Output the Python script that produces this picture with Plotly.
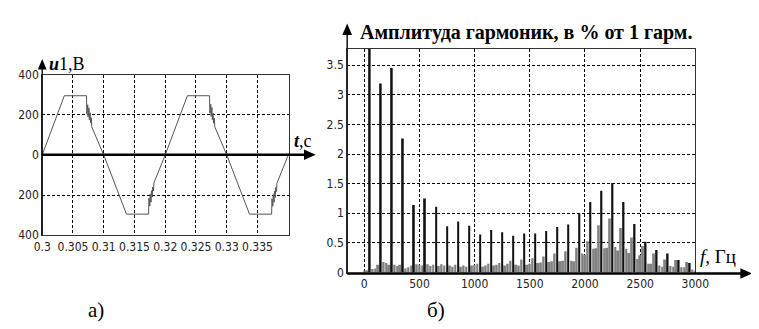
import plotly.graph_objects as go

# ---------------- data: left chart (voltage waveform) ----------------
t_s = [0.3000, 0.3036, 0.30720, 0.30725, 0.30740, 0.30745, 0.30760, 0.30765, 0.30780, 0.30785,
       0.30800, 0.30805, 0.3100, 0.3137, 0.31730, 0.31735, 0.31750, 0.31755, 0.31770, 0.31775,
       0.31790, 0.31795, 0.31810, 0.31815, 0.3200,
       0.3236, 0.32720, 0.32725, 0.32740, 0.32745, 0.32760, 0.32765, 0.32780, 0.32785,
       0.32800, 0.32805, 0.3300, 0.3337, 0.33730, 0.33735, 0.33750, 0.33755, 0.33770, 0.33775,
       0.33790, 0.33795, 0.33810, 0.33815, 0.3400]
u_v = [0, 295, 295, 205, 250, 190, 235, 175, 210, 160,
       185, 140, 0, -295, -295, -215, -255, -195, -235, -178,
       -210, -160, -180, -140, 0,
       295, 295, 208, 252, 192, 236, 176, 208, 158,
       183, 140, 0, -295, -295, -218, -256, -197, -236, -180,
       -212, -162, -182, -142, 0]

t_ticks = [0.3, 0.305, 0.31, 0.315, 0.32, 0.325, 0.33, 0.335]
t_labels = ["0.3", "0.305", "0.31", "0.315", "0.32", "0.325", "0.33", "0.335"]
u_ticks = [-400, -200, 0, 200, 400]
u_labels = ["400", "200", "0", "200", "400"]

# ---------------- data: right chart (harmonic spectrum) ----------------
f_odd = [50, 150, 250, 350, 450, 550, 650, 750, 850, 950, 1050, 1150, 1250, 1350, 1450,
         1550, 1650, 1750, 1850, 1950, 2050, 2150, 2250, 2350, 2450, 2550, 2650, 2750,
         2850, 2950]
a_odd = [100, 3.19, 3.45, 2.26, 1.14, 1.25, 1.11, 0.78, 0.86, 0.79, 0.64, 0.72, 0.68, 0.62,
         0.66, 0.66, 0.70, 0.77, 0.81, 1.00, 1.19, 1.38, 1.51, 1.19, 0.82, 0.52, 0.38, 0.32,
         0.21, 0.16]

f_other = [0, 25, 75, 100, 125, 175, 200, 225, 275, 300, 325, 375, 400, 425, 475, 500, 525,
           575, 600, 625, 675, 700, 725, 775, 800, 825, 875, 900, 925, 975, 1000, 1025,
           1075, 1100, 1125, 1175, 1200, 1225, 1275, 1300, 1325, 1375, 1400, 1425, 1475,
           1500, 1525, 1575, 1600, 1625, 1675, 1700, 1725, 1775, 1800, 1825, 1875, 1900,
           1925, 1975, 2000, 2025, 2075, 2100, 2125, 2175, 2200, 2225, 2275, 2300, 2325,
           2375, 2400, 2425, 2475, 2500, 2525, 2575, 2600, 2625, 2675, 2700, 2725, 2775,
           2800, 2825, 2875, 2900, 2925, 2975, 3000]
a_other = [0.03, 0.04, 0.06, 0.07, 0.13, 0.18, 0.16, 0.13, 0.13, 0.11, 0.13, 0.07, 0.09, 0.12,
           0.14, 0.13, 0.12, 0.14, 0.11, 0.13, 0.11, 0.14, 0.12, 0.12, 0.10, 0.13, 0.10, 0.12,
           0.10, 0.12, 0.13, 0.15, 0.10, 0.12, 0.15, 0.12, 0.13, 0.16, 0.12, 0.15, 0.20, 0.13,
           0.12, 0.22, 0.13, 0.15, 0.24, 0.16, 0.17, 0.27, 0.18, 0.19, 0.32, 0.19, 0.20, 0.36,
           0.20, 0.19, 0.42, 0.32, 0.30, 0.53, 0.40, 0.41, 0.80, 0.41, 0.42, 0.91, 0.43, 0.37,
           0.75, 0.40, 0.33, 0.59, 0.23, 0.29, 0.45, 0.15, 0.15, 0.32, 0.12, 0.10, 0.22, 0.11,
           0.10, 0.21, 0.09, 0.09, 0.18, 0.05, 0.03]

f_ticks = [0, 500, 1000, 1500, 2000, 2500, 3000]
a_ticks = [0, 0.5, 1, 1.5, 2, 2.5, 3, 3.5]
a_labels = ["0", "0.5", "1", "1.5", "2", "2.5", "3", "3.5"]

# ---------------- layout helpers (pixel -> paper) ----------------
W, H = 759, 329
def px(x):
    return x / W
def py(y):
    return 1 - y / H

TICKFONT = dict(family="Liberation Sans Narrow, DejaVu Sans Condensed, Arial Narrow, sans-serif",
                size=12, color="#222222")
SERIF = "Liberation Serif, Times New Roman, serif"
GRID = dict(showgrid=True, gridcolor="black", gridwidth=1.3, griddash="3px,2px")

fig = go.Figure()

fig.add_trace(go.Scatter(x=t_s, y=u_v, mode="lines", line=dict(color="#555555", width=1),
                         xaxis="x", yaxis="y", showlegend=False, hoverinfo="skip"))

fig.add_trace(go.Bar(x=f_other, y=a_other, width=18, marker=dict(color="#808080", line=dict(width=0)),
                     xaxis="x2", yaxis="y2", showlegend=False))
fig.add_trace(go.Bar(x=f_odd, y=a_odd, width=15, marker=dict(color="#111111", line=dict(width=0)),
                     xaxis="x2", yaxis="y2", showlegend=False))

fig.update_layout(
    width=W, height=H,
    margin=dict(l=0, r=0, t=0, b=0, pad=0),
    paper_bgcolor="white", plot_bgcolor="white",
    barmode="overlay",
    xaxis=dict(domain=[px(26), px(281)], range=[0.3, 0.3402], tickvals=t_ticks, ticktext=t_labels,
               tickfont=TICKFONT, tickangle=0, showline=True, mirror=True, linecolor="#333333",
               linewidth=1, zeroline=False, ticks="", anchor="y", **GRID),
    yaxis=dict(domain=[py(230), py(62.3)], range=[-400, 400], tickvals=u_ticks, ticktext=u_labels,
               tickfont=TICKFONT, showline=True, mirror=True, linecolor="#333333", linewidth=1,
               zeroline=False, ticks="", anchor="x", **GRID),
    xaxis2=dict(domain=[px(340.5), px(699.5)], range=[-155, 3000], tickvals=f_ticks,
                tickfont=TICKFONT, tickangle=0, showline=True, mirror=True, linecolor="#333333",
                linewidth=1, zeroline=False, ticks="", anchor="y2", **GRID),
    yaxis2=dict(domain=[py(269), py(35)], range=[0, 3.78], tickvals=a_ticks, ticktext=a_labels,
                tickfont=TICKFONT, showline=True, mirror=True, linecolor="#333333", linewidth=1,
                zeroline=False, ticks="", anchor="x2", **GRID),
)

shapes = []
# left: thick zero line with arrow
y0_left = 146
shapes.append(dict(type="line", xref="paper", yref="paper", x0=px(26), x1=px(298),
                   y0=py(y0_left), y1=py(y0_left), line=dict(color="black", width=2.5)))
shapes.append(dict(type="path", xref="paper", yref="paper",
                   path=f"M {px(296)} {py(y0_left-5.5)} L {px(308)} {py(y0_left)} L {px(296)} {py(y0_left+5.5)} Z",
                   fillcolor="black", line=dict(color="black", width=0)))
# left: y axis arrow
shapes.append(dict(type="line", xref="paper", yref="paper", x0=px(26), x1=px(26),
                   y0=py(230), y1=py(55), line=dict(color="black", width=1.3)))
shapes.append(dict(type="path", xref="paper", yref="paper",
                   path=f"M {px(21.5)} {py(57)} L {px(26)} {py(46)} L {px(30.5)} {py(57)} Z",
                   fillcolor="black", line=dict(color="black", width=0)))
# right: thick x axis with arrow
y0_right = 270
shapes.append(dict(type="line", xref="paper", yref="paper", x0=px(340.5), x1=px(750),
                   y0=py(y0_right), y1=py(y0_right), line=dict(color="black", width=2.5)))
shapes.append(dict(type="path", xref="paper", yref="paper",
                   path=f"M {px(746)} {py(y0_right-5.5)} L {px(758)} {py(y0_right)} L {px(746)} {py(y0_right+5.5)} Z",
                   fillcolor="black", line=dict(color="black", width=0)))
# right: y axis with arrow
shapes.append(dict(type="line", xref="paper", yref="paper", x0=px(340.5), x1=px(340.5),
                   y0=py(270), y1=py(19), line=dict(color="#222222", width=1.6)))
shapes.append(dict(type="path", xref="paper", yref="paper",
                   path=f"M {px(335.5)} {py(21)} L {px(340.5)} {py(9)} L {px(345.5)} {py(21)} Z",
                   fillcolor="black", line=dict(color="black", width=0)))
fig.update_layout(shapes=shapes)

ann = [
    dict(text="<b><i>u</i></b>1,В", x=px(31), y=py(51), xanchor="left", yanchor="middle",
         font=dict(family=SERIF, size=18, color="black")),
    dict(text="<b><i>t</i></b>,с", x=px(284), y=py(132), xanchor="left", yanchor="middle",
         font=dict(family=SERIF, size=18, color="black")),
    dict(text="<b>Амплитуда гармоник, в % от 1 гарм.</b>", x=px(352), y=py(18), xanchor="left",
         yanchor="middle", font=dict(family=SERIF, size=20, color="black")),
    dict(text="<i>f</i>, Гц", x=px(702), y=py(252), xanchor="left", yanchor="middle",
         font=dict(family=SERIF, size=19, color="black"), bgcolor="white"),
    dict(text="а)", x=px(81), y=py(308), xanchor="center", yanchor="middle",
         font=dict(family=SERIF, size=21, color="black")),
    dict(text="б)", x=px(432), y=py(308), xanchor="center", yanchor="middle",
         font=dict(family=SERIF, size=21, color="black")),
]
for a in ann:
    a.update(xref="paper", yref="paper", showarrow=False)
fig.update_layout(annotations=ann)

fig.write_html("out.html")
